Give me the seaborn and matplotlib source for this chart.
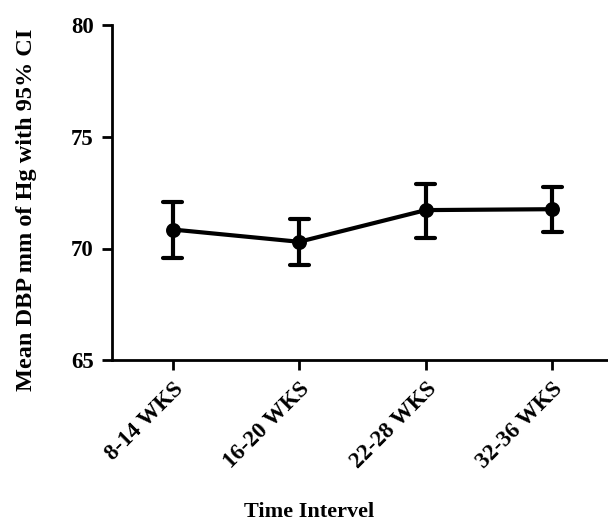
import matplotlib
matplotlib.use("Agg")
import matplotlib.pyplot as plt
import seaborn as sns
import pandas as pd

categories = ["8-14 WKS", "16-20 WKS", "22-28 WKS", "32-36 WKS"]
means = [70.85, 70.30, 71.72, 71.76]
ci_low = [69.58, 69.25, 70.48, 70.76]
ci_high = [72.08, 71.33, 72.90, 72.76]

rows = []
for c, lo, m, hi in zip(categories, ci_low, means, ci_high):
    for v in (lo, m, hi):
        rows.append({"interval": c, "dbp": v})
df = pd.DataFrame(rows)

sns.set_style("ticks")
plt.rcParams["font.family"] = ["Liberation Serif", "DejaVu Serif"]
plt.rcParams["font.weight"] = "bold"

fig = plt.figure(figsize=(6.08, 5.25), dpi=100)
ax = fig.add_axes([0.184, 0.314, 0.816, 0.638])

sns.pointplot(data=df, x="interval", y="dbp", order=categories,
              estimator="median", errorbar=lambda x: (x.min(), x.max()),
              color="black", capsize=0.15, linewidth=3.0,
              err_kws={"linewidth": 3.0}, markersize=8.5, ax=ax)

ax.set_ylim(65, 80)
ax.set_yticks([65, 70, 75, 80])
ax.set_xlim(-0.48, 3.44)
sns.despine(ax=ax)
for s in ("left", "bottom"):
    ax.spines[s].set_linewidth(2.0)
    ax.spines[s].set_color("black")
ax.tick_params(axis="both", length=7, width=2.0, color="black",
               labelsize=16.5, labelcolor="black")
ax.tick_params(axis="y", pad=6)
ax.tick_params(axis="x", pad=6)
plt.setp(ax.get_xticklabels(), rotation=45, ha="right",
         rotation_mode="anchor", fontweight="bold")
plt.setp(ax.get_yticklabels(), fontweight="bold")
ax.set_ylabel("Mean DBP mm of Hg with 95% CI", fontsize=17.5,
              fontweight="bold", color="black")
ax.yaxis.set_label_coords(-0.150, 0.448)
ax.set_xlabel("Time Intervel", fontsize=16, fontweight="bold", color="black")
ax.xaxis.set_label_coords(0.397, -0.424)

fig.savefig("out.png", dpi=100)
